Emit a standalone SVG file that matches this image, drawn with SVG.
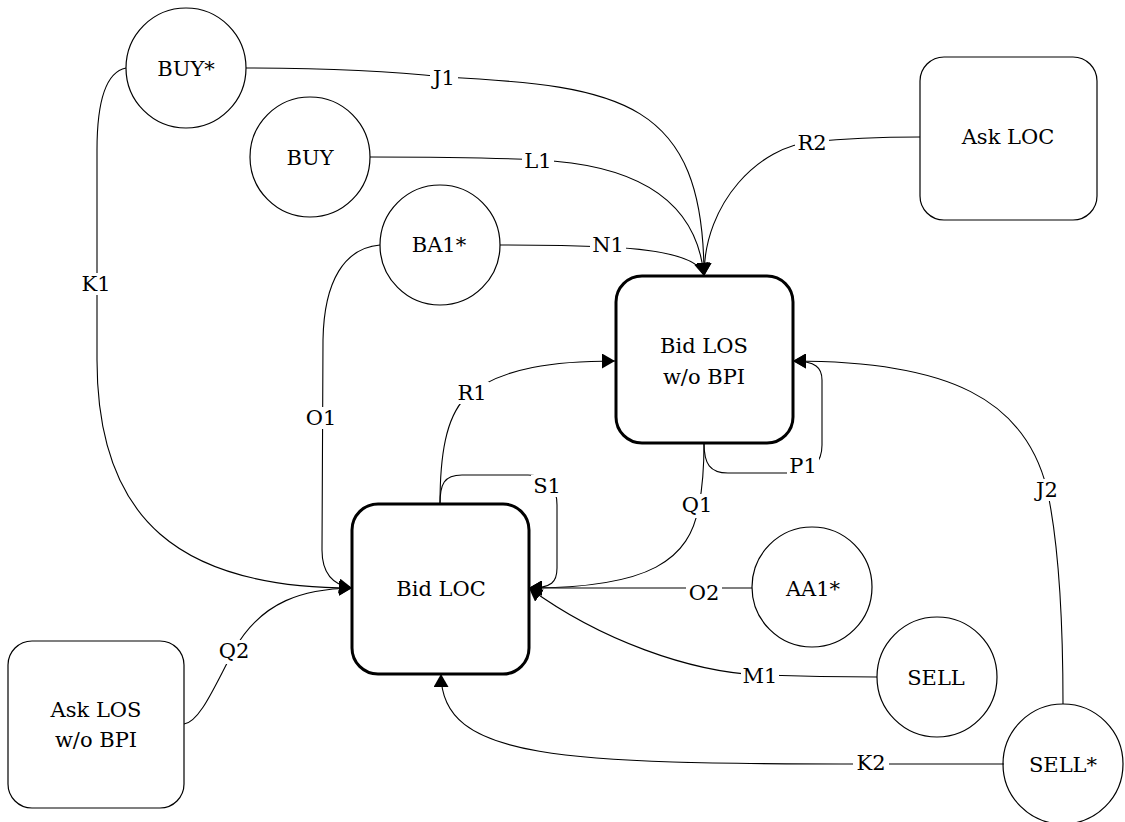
<svg xmlns="http://www.w3.org/2000/svg" width="1125" height="822" viewBox="0 0 1125 822">
  <style>
    .c { fill: #fff; stroke: #000; stroke-width: 1.2; }
    .r { fill: #fff; stroke: #000; stroke-width: 1.2; }
    .b { fill: #fff; stroke: #000; stroke-width: 3; }
    .e { fill: none; stroke: #000; stroke-width: 1.1; marker-end: url(#arr); }
    .bg { fill: #fff; stroke: none; }
    text { font-family: 'DejaVu Serif', 'Liberation Serif', serif; font-size: 21px; text-anchor: middle; fill: #000; }
  </style>
  <defs>
    <marker id="arr" viewBox="0 0 13 15" markerWidth="13" markerHeight="15" refX="13" refY="7.5" orient="auto" markerUnits="userSpaceOnUse">
      <path d="M0,0 L13,7.5 L0,15 z" fill="#000"/>
    </marker>
  </defs>
  <rect width="1125" height="822" fill="#fff"/>

  <g id="nodes">
    <g id="n-buystar"><circle class="c" cx="186" cy="68" r="60"/><text x="186" y="76">BUY*</text></g>
    <g id="n-buy"><circle class="c" cx="310" cy="157" r="60"/><text x="310" y="165">BUY</text></g>
    <g id="n-ba1"><circle class="c" cx="440" cy="245" r="60"/><text x="439" y="252">BA1*</text></g>
    <g id="n-asklos"><rect class="r" x="8" y="641" width="176" height="167" rx="24"/><text x="96" y="717">Ask LOS</text><text x="96" y="747">w/o BPI</text></g>
    <g id="n-askloc"><rect class="r" x="920" y="57" width="177" height="163" rx="24"/><text x="1008" y="144">Ask LOC</text></g>
    <g id="n-bidlos"><rect class="b" x="616" y="276" width="177" height="167" rx="26"/><text x="704" y="353">Bid LOS</text><text x="704" y="384">w/o BPI</text></g>
    <g id="n-bidloc"><rect class="b" x="352" y="504" width="177" height="170" rx="26"/><text x="441" y="596">Bid LOC</text></g>
    <g id="n-aa1"><circle class="c" cx="812" cy="587" r="60"/><text x="813" y="596">AA1*</text></g>
    <g id="n-sell"><circle class="c" cx="937" cy="677" r="60"/><text x="936" y="685">SELL</text></g>
    <g id="n-sellstar"><circle class="c" cx="1063" cy="764" r="60"/><text x="1063" y="772">SELL*</text></g>
  </g>

  <g id="connectors">
    <path id="e-J1" class="e" d="M246,68 C330,68 400,72 444,77 C620,86 704,100 704,276"/>
    <path id="e-L1" class="e" d="M370,157 C450,157 500,158 538,160 C600,163 695,180 704,276"/>
    <path id="e-N1" class="e" d="M500,245 C560,245 585,246 608,247 C650,249 700,255 704,276"/>
    <path id="e-R2" class="e" d="M920,137 C870,137 840,139 812,142 C760,146 704,202 704,276"/>
    <path id="e-K1" class="e" d="M126,68 C106,72 97,100 97,150 L97,360 C97,520 180,588 352,588"/>
    <path id="e-O1" class="e" d="M380,245 C345,248 324,280 323,340 L322,550 C322,572 332,585 352,588"/>
    <path id="e-Q2" class="e" d="M184,724 C200,722 215,685 234,650 C262,600 305,589 352,588"/>
    <path id="e-R1" class="e" d="M440,504 C440,455 446,418 465,398 C500,366 560,361 615,361"/>
    <path id="e-S1" class="e" d="M440,504 C440,484 444,475 462,475 L528,475 C548,475 557,488 557,505 L557,568 C557,582 552,588 529,588"/>
    <path id="e-P1" class="e" d="M704,443 C704,464 710,473 728,473 L795,473 C812,473 822,462 822,445 L822,380 C822,368 816,361 793,361"/>
    <path id="e-Q1" class="e" d="M704,443 C704,470 702,490 699,505 C690,560 650,588 529,588"/>
    <path id="e-O2" class="e" d="M752,588 L529,588"/>
    <path id="e-M1" class="e" d="M877,677 C830,677 790,676 760,675 C690,672 600,640 529,588"/>
    <path id="e-K2" class="e" d="M1004,764 C950,764 900,764 871,764 C560,764 441,760 441,674"/>
    <path id="e-J2" class="e" d="M1063,704 C1063,620 1058,540 1047,489 C1025,400 950,361 793,361"/>

    <g id="labels">
      <rect class="bg" x="430" y="68" width="28" height="20"/><text x="444" y="85">J1</text>
      <rect class="bg" x="522" y="151" width="32" height="20"/><text x="538" y="168">L1</text>
      <rect class="bg" x="590" y="235" width="36" height="20"/><text x="608" y="252">N1</text>
      <rect class="bg" x="795" y="133" width="34" height="20"/><text x="812" y="150">R2</text>
      <rect class="bg" x="79" y="273" width="35" height="22"/><text x="96" y="291">K1</text>
      <rect class="bg" x="304" y="407" width="35" height="22"/><text x="321" y="425">O1</text>
      <rect class="bg" x="216" y="640" width="36" height="24"/><text x="234" y="658">Q2</text>
      <rect class="bg" x="455" y="382" width="34" height="22"/><text x="472" y="400">R1</text>
      <rect class="bg" x="531" y="475" width="32" height="22"/><text x="547" y="493">S1</text>
      <rect class="bg" x="787" y="455" width="32" height="22"/><text x="803" y="473">P1</text>
      <rect class="bg" x="679" y="494" width="36" height="24"/><text x="697" y="512">Q1</text>
      <rect class="bg" x="686" y="582" width="36" height="20"/><text x="704" y="600">O2</text>
      <rect class="bg" x="741" y="665" width="38" height="20"/><text x="760" y="683">M1</text>
      <rect class="bg" x="853" y="752" width="36" height="20"/><text x="871" y="770">K2</text>
      <rect class="bg" x="1034" y="479" width="27" height="22"/><text x="1047" y="497">J2</text>
    </g>
  </g>
</svg>
